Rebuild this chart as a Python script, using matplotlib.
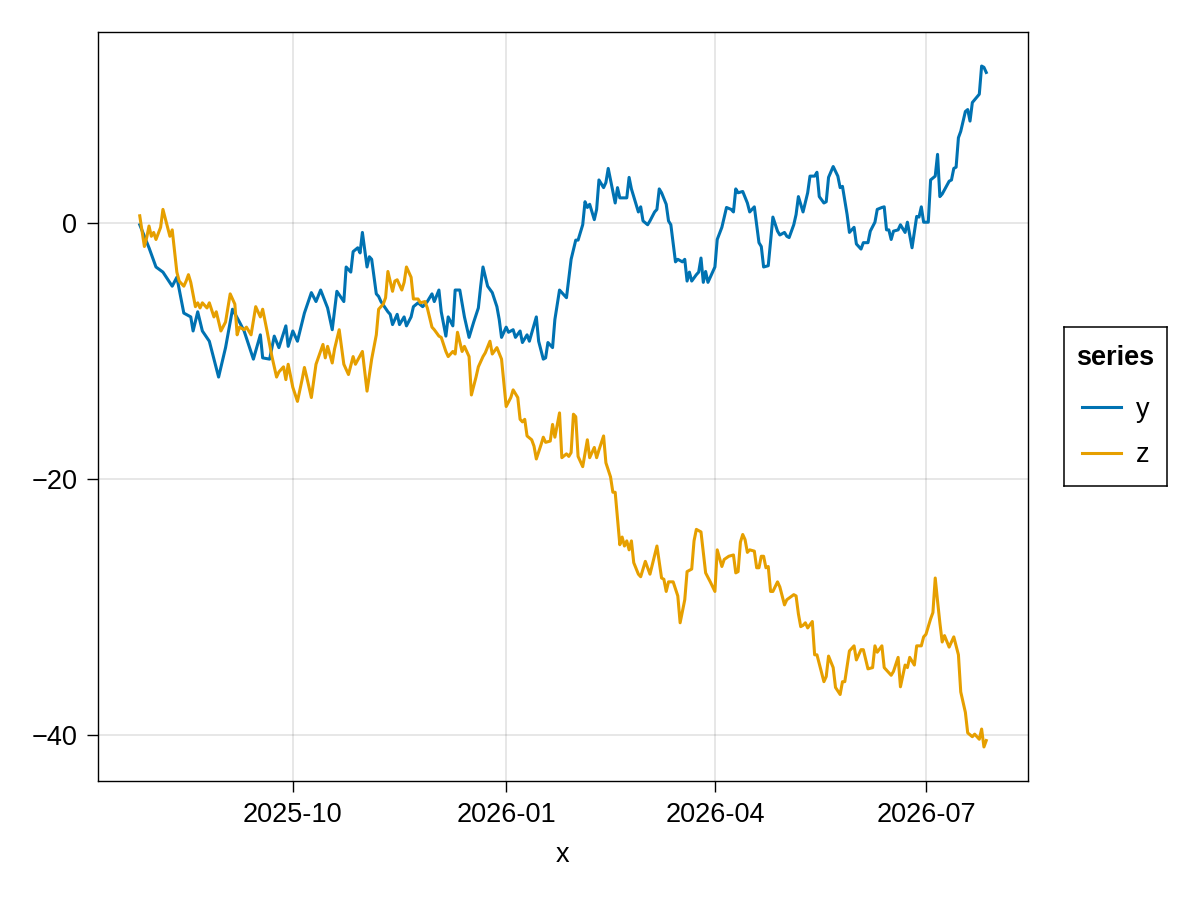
"""Two random-walk style series over one year, drawn in a Makie-like style."""

import datetime as dt

import matplotlib
matplotlib.use("Agg")
import matplotlib.dates as mdates
import matplotlib.pyplot as plt

START = dt.date(2025, 7, 27)

# day offset from START and value
y_days = [
    0, 4, 7, 10, 14, 16, 19, 22, 23, 25,
    27, 30, 34, 37, 40, 43, 45, 49, 52, 53,
    56, 58, 60, 63, 64, 66, 68, 71, 74, 76,
    78, 81, 83, 85, 88, 89, 91, 92, 94, 95,
    96, 98, 99, 100, 102, 103, 104, 107, 108, 109,
    111, 112, 114, 115, 117, 118, 120, 122, 124, 126,
    127, 129, 130, 132, 133, 135, 136, 138, 140, 142,
    144, 146, 147, 148, 150, 152, 154, 155, 156, 158,
    159, 161, 162, 164, 165, 167, 168, 171, 172, 174,
    175, 176, 178, 179, 181, 184, 186, 188, 189, 191,
    192, 193, 194, 196, 197, 198, 200, 201, 202, 204,
    205, 206, 207, 210, 211, 212, 214, 215, 216, 217,
    219, 220, 222, 223, 224, 225, 227, 228, 229, 231,
    232, 234, 235, 236, 237, 238, 240, 241, 242, 243,
    244, 245, 248, 249, 251, 253, 255, 256, 257, 258,
    260, 262, 263, 265, 267, 268, 269, 271, 273, 275,
    276, 278, 279, 280, 282, 283, 284, 286, 288, 289,
    291, 292, 293, 295, 296, 297, 299, 301, 302, 303,
    305, 306, 308, 309, 311, 312, 314, 315, 317, 318,
    320, 321, 322, 323, 324, 325, 327, 328, 330, 331,
    333, 335, 336, 337, 338, 340, 341, 343, 344, 345,
    346, 349, 350, 351, 352, 353, 354, 356, 357, 358,
    359, 362, 363, 364, 365,
]
y_vals = [
    -0.1, -1.9, -3.4, -3.8, -4.9, -4.2, -7.0, -7.3, -8.4, -6.9,
    -8.4, -9.2, -12.0, -9.7, -6.7, -7.7, -8.4, -10.6, -8.7, -10.5,
    -10.6, -8.8, -9.7, -8.0, -9.6, -8.4, -9.2, -7.0, -5.4, -6.1,
    -5.2, -6.6, -8.3, -5.3, -6.1, -3.4, -3.8, -2.2, -1.9, -2.3,
    -0.7, -3.4, -2.6, -2.8, -5.5, -5.7, -6.1, -6.9, -7.1, -7.9,
    -7.1, -7.9, -7.3, -8.0, -7.3, -6.5, -6.2, -6.5, -6.1, -5.5,
    -6.1, -5.2, -6.9, -8.8, -7.3, -8.0, -5.2, -5.2, -7.3, -8.9,
    -7.7, -6.6, -4.9, -3.4, -4.9, -5.4, -6.5, -7.5, -8.9, -8.1,
    -8.5, -8.3, -8.9, -8.4, -9.3, -8.7, -9.2, -7.3, -9.2, -10.6,
    -10.5, -9.3, -9.7, -7.5, -5.2, -5.8, -2.8, -1.3, -1.3, -0.1,
    1.7, 1.25, 1.5, 0.3, 1.1, 3.4, 2.8, 3.2, 4.3, 2.5,
    1.6, 2.8, 2.0, 2.0, 3.6, 2.7, 1.5, 0.9, 1.3, 0.2,
    -0.1, 0.2, 0.9, 1.1, 2.7, 2.4, 1.5, 0.2, -0.1, -3.0,
    -2.8, -3.0, -2.8, -4.5, -3.8, -4.5, -4.0, -3.8, -2.7, -4.6,
    -3.75, -4.6, -3.4, -1.25, -0.3, 1.25, 1.1, 0.9, 2.7, 2.4,
    2.5, 1.6, 0.9, 1.3, -1.5, -1.8, -3.4, -3.3, 0.5, -0.6,
    -0.9, -0.7, -1.0, -1.1, -0.1, 0.7, 2.1, 0.9, 2.4, 3.7,
    3.7, 4.0, 2.1, 1.6, 1.7, 3.6, 4.45, 3.7, 2.8, 2.9,
    0.7, -0.7, -0.3, -1.6, -2.0, -1.5, -1.5, -0.6, 0.1, 1.1,
    1.25, 1.3, -0.5, -0.5, -1.25, -0.6, -0.5, -0.1, -0.7, 0.1,
    -1.9, 0.55, 0.5, 1.3, 0.1, 0.1, 3.4, 3.7, 5.4, 2.1,
    2.3, 3.3, 3.4, 4.3, 4.4, 6.7, 7.2, 8.75, 8.9, 8.0,
    9.45, 10.1, 12.3, 12.2, 11.8,
]

z_days = [
    0, 2, 3, 4, 5, 6, 7, 9, 10, 12,
    13, 14, 16, 17, 19, 20, 21, 22, 24, 25,
    26, 27, 29, 30, 32, 33, 35, 37, 39, 41,
    42, 43, 45, 46, 48, 50, 52, 53, 55, 57,
    59, 60, 62, 63, 64, 66, 68, 70, 71, 72,
    74, 76, 79, 80, 81, 83, 84, 86, 88, 90,
    92, 93, 96, 98, 100, 102, 103, 105, 106, 107,
    109, 110, 111, 113, 114, 115, 117, 118, 120, 121,
    123, 124, 126, 127, 129, 130, 132, 133, 135, 136,
    137, 139, 140, 142, 143, 145, 146, 148, 149, 151,
    152, 154, 156, 158, 160, 161, 163, 164, 165, 166,
    167, 169, 170, 171, 173, 174, 175, 177, 178, 179,
    181, 182, 184, 185, 186, 187, 188, 189, 191, 193,
    194, 196, 197, 198, 200, 201, 203, 204, 205, 207,
    208, 209, 210, 211, 212, 213, 215, 216, 218, 220,
    223, 225, 226, 227, 228, 230, 232, 233, 235, 236,
    238, 239, 240, 242, 244, 246, 248, 249, 251, 252,
    254, 256, 257, 258, 259, 260, 261, 262, 263, 265,
    266, 267, 268, 269, 270, 271, 272, 273, 275, 276,
    278, 279, 282, 283, 284, 285, 286, 287, 288, 290,
    291, 292, 295, 296, 297, 299, 300, 302, 303, 304,
    306, 308, 309, 311, 312, 314, 316, 317, 318, 320,
    321, 323, 324, 325, 327, 328, 330, 331, 332, 334,
    335, 337, 338, 339, 340, 341, 342, 343, 344, 345,
    346, 347, 349, 351, 353, 354, 356, 357, 359, 360,
    361, 362, 363, 364, 365,
]
z_vals = [
    0.6, -1.8, -1.1, -0.2, -1.0, -0.7, -1.25, -0.3, 1.1, -0.3,
    -1.0, -0.5, -3.8, -4.5, -4.9, -4.5, -4.0, -4.6, -6.5, -6.2,
    -6.6, -6.2, -6.6, -6.2, -7.3, -6.9, -8.4, -7.7, -5.5, -6.3,
    -8.7, -8.1, -8.3, -8.1, -8.7, -6.5, -7.3, -6.7, -8.5, -10.4,
    -12.0, -11.6, -11.2, -12.2, -11.0, -12.8, -13.9, -12.2, -11.25, -12.0,
    -13.6, -11.0, -9.45, -10.5, -9.6, -10.9, -9.8, -8.3, -11.0, -11.8,
    -10.4, -11.0, -10.0, -13.1, -10.6, -8.7, -6.7, -6.3, -5.8, -3.75,
    -5.3, -4.5, -4.4, -5.2, -4.6, -3.4, -4.2, -5.9, -5.9, -6.2,
    -6.1, -6.6, -8.1, -8.3, -8.8, -8.9, -10.0, -10.4, -10.0, -10.2,
    -8.5, -10.0, -9.6, -10.4, -13.4, -12.0, -11.2, -10.4, -10.1, -9.2,
    -10.2, -9.7, -10.6, -14.3, -13.6, -13.0, -13.6, -15.3, -15.5, -15.3,
    -16.6, -16.9, -17.4, -18.4, -17.3, -16.7, -17.1, -17.0, -15.7, -16.7,
    -14.8, -18.3, -18.0, -18.2, -17.9, -14.9, -15.1, -18.2, -19.0, -16.9,
    -18.3, -17.5, -18.3, -17.7, -16.6, -18.7, -19.8, -21.0, -21.0, -25.1,
    -24.5, -25.2, -24.8, -25.5, -24.8, -26.5, -27.4, -27.6, -26.4, -27.4,
    -25.2, -27.7, -27.8, -28.75, -28.0, -28.0, -29.1, -31.2, -29.4, -27.2,
    -27.0, -24.8, -23.9, -24.1, -27.3, -28.0, -28.75, -25.5, -26.8, -26.25,
    -26.0, -25.9, -27.3, -27.2, -24.9, -24.3, -24.7, -25.7, -25.5, -25.6,
    -26.9, -26.9, -26.0, -26.0, -26.9, -26.8, -28.75, -28.75, -28.0, -28.4,
    -29.8, -29.4, -29.0, -29.1, -30.5, -31.5, -31.4, -31.2, -31.6, -31.1,
    -33.7, -33.7, -35.8, -35.4, -33.8, -34.7, -36.25, -36.8, -35.8, -35.8,
    -33.4, -33.0, -34.1, -33.3, -33.3, -34.8, -34.7, -33.0, -33.5, -33.0,
    -34.7, -35.1, -35.3, -35.0, -33.9, -36.2, -34.5, -34.7, -33.9, -34.5,
    -33.0, -33.0, -32.3, -32.1, -31.5, -30.9, -30.4, -27.7, -29.5, -31.2,
    -32.7, -32.2, -33.1, -32.3, -33.7, -36.6, -38.2, -39.8, -40.1, -39.9,
    -40.1, -40.3, -39.5, -40.9, -40.4,
]

series_names = ["y", "z"]
series_colors = ["#0072B2", "#E69F00"]
x_tick_dates = [dt.date(2025, 10, 1), dt.date(2026, 1, 1), dt.date(2026, 4, 1), dt.date(2026, 7, 1)]
y_ticks = [-40, -20, 0]


def _dates(days: list[int]) -> list[dt.date]:
    return [START + dt.timedelta(days=d) for d in days]


def main() -> int:
    assert len(y_days) == len(y_vals) and len(z_days) == len(z_vals)
    plt.rcParams["font.family"] = ["Liberation Sans", "DejaVu Sans"]
    plt.rcParams["font.size"] = 19.5

    fig = plt.figure(figsize=(12, 9), dpi=100)
    ax = fig.add_axes([98 / 1200, 119 / 900, 930 / 1200, 749 / 900])

    handles = []
    for name, color, days, vals in zip(series_names, series_colors,
                                       (y_days, z_days), (y_vals, z_vals)):
        (line,) = ax.plot(_dates(days), vals, color=color, lw=2.2, label=name)
        handles.append(line)

    first, last = START, START + dt.timedelta(days=365)
    pad = dt.timedelta(days=18.25)
    ax.set_xlim(first - pad, last + pad)
    lo, hi = min(min(y_vals), min(z_vals)), max(max(y_vals), max(z_vals))
    margin = 0.05 * (hi - lo)
    ax.set_ylim(lo - margin, hi + margin)

    ax.set_xticks(x_tick_dates)
    ax.xaxis.set_major_formatter(mdates.DateFormatter("%Y-%m"))
    ax.set_yticks(y_ticks)
    ax.tick_params(direction="out", length=8, width=1.0, pad=7, labelsize=19.5)
    ax.grid(True, color="black", alpha=0.12, lw=1.1)
    ax.set_axisbelow(True)
    for spine in ax.spines.values():
        spine.set_linewidth(1.0)
    ax.set_xlabel("x", fontsize=19.5, labelpad=10)

    # legend sits in its own framed box to the right of the axis
    lax = fig.add_axes([1064 / 1200, 414 / 900, 103 / 1200, 159 / 900])
    lax.set_xticks([])
    lax.set_yticks([])
    for spine in lax.spines.values():
        spine.set_linewidth(1.1)
    leg = lax.legend(handles=handles, title="series", loc="center", frameon=False,
                     fontsize=19.5, title_fontproperties={"weight": "bold", "size": 19.5},
                     handlelength=1.45, handletextpad=0.55, labelspacing=0.72,
                     borderpad=0.0, borderaxespad=0.0)
    leg._legend_box.sep = 19

    fig.savefig("out.png", dpi=100)
    plt.close(fig)
    return 0


if __name__ == "__main__":
    raise SystemExit(main())
